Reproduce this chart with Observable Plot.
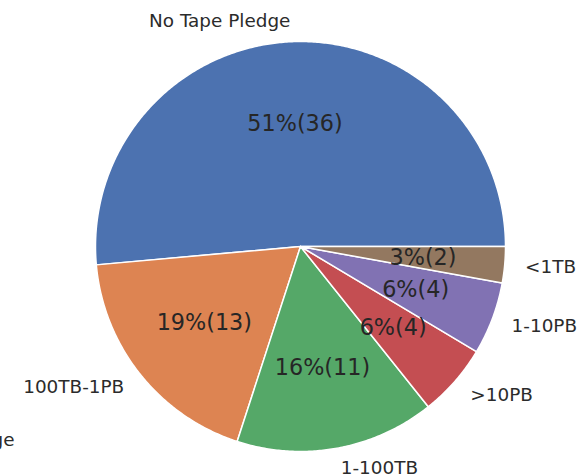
<!DOCTYPE html>
<html>
<head>
<meta charset="utf-8">
<script src="https://cdn.jsdelivr.net/npm/d3@7"></script>
<script src="https://cdn.jsdelivr.net/npm/@observablehq/plot@0.6"></script>
<style>
  html, body { margin: 0; padding: 0; background: #fff; }
  #chart svg { display: block; font-family: "DejaVu Sans", sans-serif; }
</style>
</head>
<body>
<div id="chart"></div>
<script>
const categories = ["No Tape Pledge", "100TB-1PB", "1-100TB", ">10PB", "1-10PB", "<1TB"];
const counts = [36, 13, 11, 4, 4, 2];
const palette = ["#4C72B0", "#DD8452", "#55A868", "#C44E52", "#8172B3", "#937860"];
const strayLabel = "No Tape Pledge";

const total = d3.sum(counts);
let acc = 0;
const slices = categories.map((c, i) => {
  const a0 = acc / total * 2 * Math.PI;
  acc += counts[i];
  const a1 = acc / total * 2 * Math.PI;
  const mid = (a0 + a1) / 2;
  return {label: c, value: counts[i], a0, a1, mid,
          pct: `${Math.round(counts[i] / total * 100)}%(${counts[i]})`};
});

// polygon outline points for each wedge (counter-clockwise from east, like matplotlib)
const pts = [];
for (const s of slices) {
  pts.push({label: s.label, x: 0, y: 0});
  const n = Math.max(2, Math.ceil((s.a1 - s.a0) / (Math.PI / 360)));
  for (let k = 0; k <= n; k++) {
    const a = s.a0 + (s.a1 - s.a0) * k / n;
    pts.push({label: s.label, x: Math.cos(a), y: Math.sin(a)});
  }
  pts.push({label: s.label, x: 0, y: 0});
}

const labelPts = slices.map(s => ({label: s.label, x: 1.1 * Math.cos(s.mid), y: 1.1 * Math.sin(s.mid), right: Math.cos(s.mid) >= 0}));
const pctPts = slices.map(s => ({text: s.pct, x: 0.6 * Math.cos(s.mid), y: 0.6 * Math.sin(s.mid)}));

const chart = Plot.plot({
  width: 582,
  height: 476,
  marginLeft: 95,
  marginRight: 77,
  marginTop: 41,
  marginBottom: 25,
  x: {domain: [-1, 1], axis: null},
  y: {domain: [-1, 1], axis: null},
  color: {domain: categories, range: palette},
  style: {fontFamily: "DejaVu Sans, sans-serif", background: "#fff"},
  marks: [
    Plot.line(pts, {x: "x", y: "y", z: "label", fill: "label", stroke: "white", strokeWidth: 1.5, curve: "linear"}),
    Plot.text(labelPts.filter(d => d.right), {x: "x", y: "y", text: "label", textAnchor: "start", fontSize: 18.4, fill: "#2b2b2b"}),
    Plot.text(labelPts.filter(d => !d.right), {x: "x", y: "y", text: "label", textAnchor: "end", fontSize: 18.4, fill: "#2b2b2b"}),
    Plot.text(pctPts, {x: "x", y: "y", text: "text", fontSize: 22.3, fill: "#262626"}),
    Plot.text([strayLabel], {x: [-1.395], y: [-0.946], text: d => d, textAnchor: "end", fontSize: 18.4, fill: "#2b2b2b"})
  ]
});
document.getElementById("chart").appendChild(chart);
</script>
</body>
</html>
